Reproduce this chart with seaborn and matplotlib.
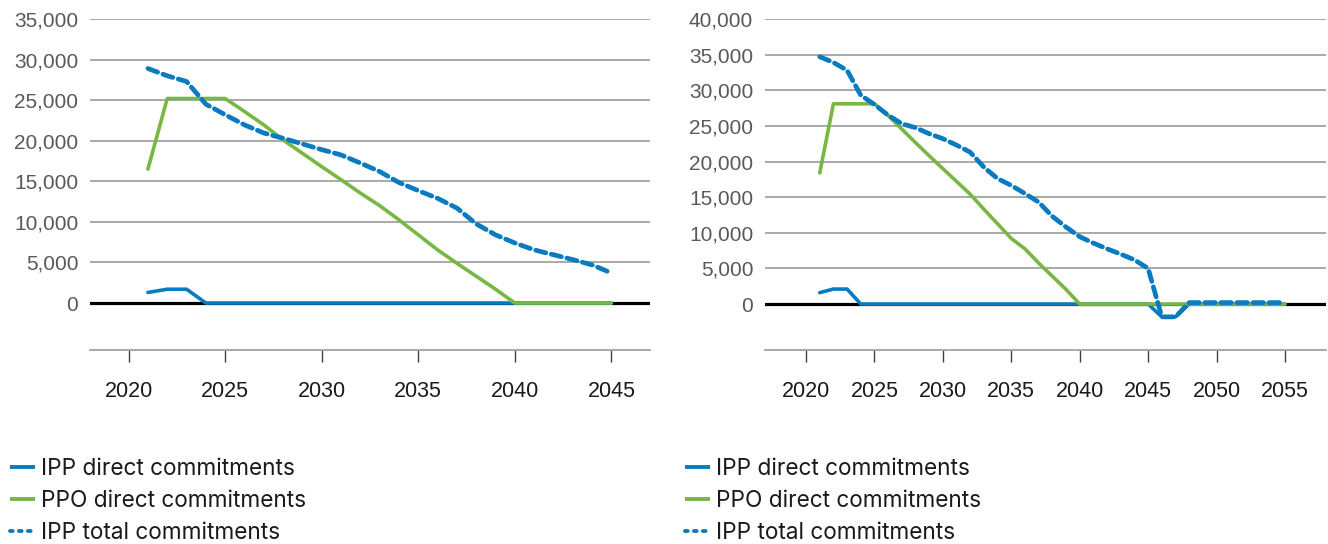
import matplotlib
matplotlib.use("Agg")
import matplotlib.pyplot as plt
import seaborn as sns
import pandas as pd
from matplotlib.ticker import FuncFormatter
from matplotlib.lines import Line2D

# ---------------- data ----------------
years_left = [2021, 2022, 2023, 2024, 2025, 2026, 2027, 2028, 2029, 2030,
              2031, 2032, 2033, 2034, 2035, 2036, 2037, 2038, 2039, 2040,
              2041, 2042, 2043, 2044, 2045]
ipp_direct_left = [1300, 1700, 1700, 0, 0, 0, 0, 0, 0, 0,
                   0, 0, 0, 0, 0, 0, 0, 0, 0, 0,
                   0, 0, 0, 0, 0]
ppo_direct_left = [16500, 25200, 25200, 25200, 25200, 23600, 21950, 20100, 18450, 16800,
                   15200, 13550, 12000, 10250, 8400, 6550, 4900, 3300, 1700, 0,
                   0, 0, 0, 0, 0]
ipp_total_left = [28900, 28000, 27300, 24500, 23200, 21950, 20950, 20300, 19600, 18900,
                  18250, 17250, 16200, 14850, 13850, 12900, 11700, 9750, 8400, 7400,
                  6550, 5950, 5350, 4700, 3700]

years_right = [2021, 2022, 2023, 2024, 2025, 2026, 2027, 2028, 2029, 2030,
               2031, 2032, 2033, 2034, 2035, 2036, 2037, 2038, 2039, 2040,
               2041, 2042, 2043, 2044, 2045, 2046, 2047, 2048, 2049, 2050,
               2051, 2052, 2053, 2054, 2055]
ipp_direct_right = [1600, 2100, 2100, 0, 0, 0, 0, 0, 0, 0,
                    0, 0, 0, 0, 0, 0, 0, 0, 0, 0,
                    0, 0, 0, 0, 0, -1800, -1800, 0, 0, 0,
                    0, 0, 0, 0, 0]
ppo_direct_right = [18400, 28100, 28100, 28100, 28100, 26450, 24550, 22650, 20800, 19000,
                    17200, 15400, 13300, 11250, 9200, 7750, 5750, 3900, 2050, 0,
                    0, 0, 0, 0, 0, 0, 0, 0, 0, 0,
                    0, 0, 0, 0, 0]
ipp_total_right = [34700, 33900, 32800, 29300, 28000, 26500, 25300, 24750, 23900, 23200,
                   22300, 21300, 19200, 17600, 16650, 15500, 14300, 12300, 10800, 9450,
                   8550, 7750, 7000, 6200, 5000, -1800, -1800, 200, 200, 200,
                   200, 200, 200, 200, 200]

labels = ["IPP direct commitments", "PPO direct commitments", "IPP total commitments"]
left_yticks = [0, 5000, 10000, 15000, 20000, 25000, 30000, 35000]
right_yticks = [0, 5000, 10000, 15000, 20000, 25000, 30000, 35000, 40000]
left_xticks = [2020, 2025, 2030, 2035, 2040, 2045]
right_xticks = [2020, 2025, 2030, 2035, 2040, 2045, 2050, 2055]

BLUE = "#0A7BC1"
GREEN = "#77B844"

sns.set_theme(style="white")
plt.rcParams["font.family"] = ["Liberation Sans", "DejaVu Sans"]

fig = plt.figure(figsize=(13.28, 5.44), dpi=100)
W, H = 1328, 544
ax1 = fig.add_axes([90 / W, (H - 350) / H, 560 / W, 331 / H])
ax2 = fig.add_axes([765 / W, (H - 350) / H, 561 / W, 331 / H])


def draw(ax, years, ipp_d, ppo_d, ipp_t, yticks, xticks, ylim, xlim, legend_x):
    df = pd.DataFrame({"year": years, "ipp_d": ipp_d, "ppo_d": ppo_d, "ipp_t": ipp_t})
    for y in yticks:
        if y != 0:
            ax.axhline(y, color="#a3a3a3", lw=1.3, zorder=1)
    ax.axhline(0, color="black", lw=2.3, zorder=1.5)
    sns.lineplot(data=df, x="year", y="ipp_d", ax=ax, color=BLUE, lw=2.6,
                 legend=False, zorder=3)
    sns.lineplot(data=df, x="year", y="ppo_d", ax=ax, color=GREEN, lw=2.6,
                 legend=False, zorder=4)
    sns.lineplot(data=df, x="year", y="ipp_t", ax=ax, color=BLUE, lw=3.4,
                 legend=False, zorder=5)
    lt = ax.lines[-1]
    lt.set_dashes((2.2, 1.2))
    lt.set_dash_capstyle("round")
    for ln in ax.lines[-3:-1]:
        ln.set_solid_capstyle("round")
        ln.set_solid_joinstyle("round")

    ax.set_ylim(*ylim)
    ax.set_xlim(*xlim)
    ax.set_yticks(yticks)
    ax.set_xticks(xticks)
    ax.yaxis.set_major_formatter(FuncFormatter(lambda v, p: f"{int(v):,}"))
    ax.set_xlabel("")
    ax.set_ylabel("")
    for s in ["top", "right", "left"]:
        ax.spines[s].set_visible(False)
    ax.spines["bottom"].set_color("#a3a3a3")
    ax.spines["bottom"].set_linewidth(1.3)
    ax.tick_params(axis="y", length=0, pad=8.5, labelsize=15, labelcolor="#595959")
    ax.tick_params(axis="x", bottom=True, length=8.6, width=1.0, color="#404040",
                   direction="out", pad=14, labelsize=15.5, labelcolor="#1a1a1a")
    ax.grid(False)
    ax.set_facecolor("white")

    h_ipp = Line2D([], [], color=BLUE, lw=2.8, solid_capstyle="butt")
    h_ppo = Line2D([], [], color=GREEN, lw=2.8, solid_capstyle="butt")
    h_tot = Line2D([], [], color=BLUE, lw=2.8, dashes=(0.7, 1.6), dash_capstyle="round")
    ax.legend([h_ipp, h_ppo, h_tot], labels, loc="upper left",
              bbox_to_anchor=(legend_x, 0.159), bbox_transform=fig.transFigure,
              frameon=False, borderaxespad=0, borderpad=0,
              handlelength=1.1, handletextpad=0.25, labelspacing=0.46,
              prop={"family": ["Inter", "DejaVu Sans"], "size": 16.3},
              labelcolor="#1a1a1a")


draw(ax1, years_left, ipp_direct_left, ppo_direct_left, ipp_total_left,
     left_yticks, left_xticks, (-5790, 35000), (2018.0, 2047.0), 10 / W)
draw(ax2, years_right, ipp_direct_right, ppo_direct_right, ipp_total_right,
     right_yticks, right_xticks, (-6450, 40000), (2017.0, 2058.0), 685 / W)

fig.savefig("out.png", dpi=100, facecolor="white")
